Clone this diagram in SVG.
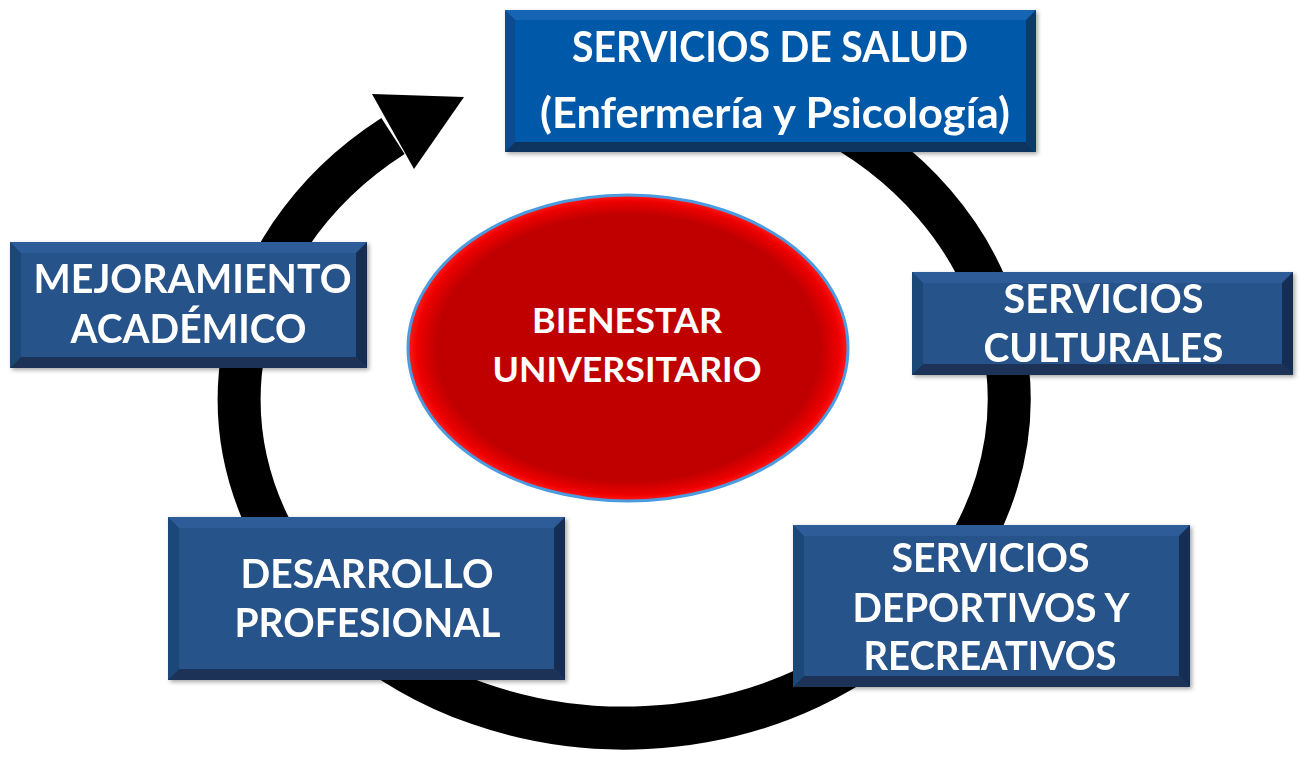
<svg xmlns="http://www.w3.org/2000/svg" width="1313" height="761" viewBox="0 0 1313 761">
<defs>
<style>
.main{fill:#28528A}
.top{fill:#2E5C98}
.left{fill:#1F4679}
.right{fill:#172F52}
.bot{fill:#1B3256}
.smain{fill:#0659A8}
.stop{fill:#1565B2}
.sleft{fill:#0A4C8E}
.sright{fill:#0B3A68}
.sbot{fill:#0B365F}
.lbl{font-family:Lato,"Open Sans","Liberation Sans",sans-serif;font-weight:bold;fill:#FFFFFF;text-anchor:middle}
.box{font-size:40px}
.ring{fill:none;stroke:#000000;stroke-width:43}
</style>
<radialGradient id="redg" cx="0.5" cy="0.5" r="0.5">
<stop offset="0" stop-color="#C00000"/>
<stop offset="0.87" stop-color="#C00000"/>
<stop offset="0.96" stop-color="#EE0000"/>
<stop offset="1" stop-color="#FF1A1A"/>
</radialGradient>
<filter id="sh" x="-5%" y="-10%" width="110%" height="120%">
<feDropShadow dx="2" dy="2" stdDeviation="2" flood-color="#000000" flood-opacity="0.35"/>
</filter>
</defs>
<rect width="1313" height="761" fill="#FFFFFF"/>

<g id="connectors">
<path class="ring" d="M 818.5 115.1 A 385 329 0 1 1 393 136"/>
<polygon points="372,94 464,97 414,169" fill="#000000"/>
</g>

<g id="bienestar">
<ellipse cx="628" cy="348" rx="220" ry="153" fill="url(#redg)" stroke="#4A9BE0" stroke-width="3"/>
<text class="lbl" x="627" y="333" font-size="34" textLength="190" lengthAdjust="spacingAndGlyphs">BIENESTAR</text>
<text class="lbl" x="627" y="382" font-size="34" textLength="269" lengthAdjust="spacingAndGlyphs">UNIVERSITARIO</text>
</g>

<g id="salud" filter="url(#sh)">
<rect class="smain" x="505" y="10" width="531" height="142"/>
<polygon class="stop" points="505,10 1036,10 1026,20 515,20"/>
<polygon class="sleft" points="505,10 515,20 515,142 505,152"/>
<polygon class="sright" points="1036,10 1036,152 1026,142 1026,20"/>
<polygon class="sbot" points="505,152 1036,152 1026,142 515,142"/>
<text class="lbl" x="770" y="62" font-size="42" textLength="396" lengthAdjust="spacingAndGlyphs">SERVICIOS DE SALUD</text>
<text class="lbl" x="775" y="128" font-size="42" textLength="470" lengthAdjust="spacingAndGlyphs">(Enfermería y Psicología)</text>
</g>

<g id="culturales" filter="url(#sh)">
<rect class="main" x="912" y="272" width="381" height="103"/>
<polygon class="top" points="912,272 1293,272 1282,283 923,283"/>
<polygon class="left" points="912,272 923,283 923,364 912,375"/>
<polygon class="right" points="1293,272 1293,375 1282,364 1282,283"/>
<polygon class="bot" points="912,375 1293,375 1282,364 923,364"/>
<text class="lbl box" x="1103.5" y="313" textLength="200" lengthAdjust="spacingAndGlyphs">SERVICIOS</text>
<text class="lbl box" x="1103.5" y="362" textLength="240" lengthAdjust="spacingAndGlyphs">CULTURALES</text>
</g>

<g id="mejoramiento" filter="url(#sh)">
<rect class="main" x="10" y="242" width="357" height="126"/>
<polygon class="top" points="10,242 367,242 356,253 21,253"/>
<polygon class="left" points="10,242 21,253 21,357 10,368"/>
<polygon class="right" points="367,242 367,368 356,357 356,253"/>
<polygon class="bot" points="10,368 367,368 356,357 21,357"/>
<text class="lbl box" x="192.5" y="293" textLength="318" lengthAdjust="spacingAndGlyphs">MEJORAMIENTO</text>
<text class="lbl box" x="188.5" y="343" textLength="236" lengthAdjust="spacingAndGlyphs">ACADÉMICO</text>
</g>

<g id="desarrollo" filter="url(#sh)">
<rect class="main" x="168" y="517" width="397" height="163"/>
<polygon class="top" points="168,517 565,517 554,528 179,528"/>
<polygon class="left" points="168,517 179,528 179,669 168,680"/>
<polygon class="right" points="565,517 565,680 554,669 554,528"/>
<polygon class="bot" points="168,680 565,680 554,669 179,669"/>
<text class="lbl box" x="367" y="588" textLength="253" lengthAdjust="spacingAndGlyphs">DESARROLLO</text>
<text class="lbl box" x="367.5" y="637" textLength="266" lengthAdjust="spacingAndGlyphs">PROFESIONAL</text>
</g>

<g id="deportivos" filter="url(#sh)">
<rect class="main" x="793" y="525" width="397" height="162"/>
<polygon class="top" points="793,525 1190,525 1179,536 804,536"/>
<polygon class="left" points="793,525 804,536 804,676 793,687"/>
<polygon class="right" points="1190,525 1190,687 1179,676 1179,536"/>
<polygon class="bot" points="793,687 1190,687 1179,676 804,676"/>
<text class="lbl box" x="990.5" y="572" textLength="198" lengthAdjust="spacingAndGlyphs">SERVICIOS</text>
<text class="lbl box" x="991" y="622" textLength="277" lengthAdjust="spacingAndGlyphs">DEPORTIVOS Y</text>
<text class="lbl box" x="990" y="670" textLength="253" lengthAdjust="spacingAndGlyphs">RECREATIVOS</text>
</g>
</svg>
